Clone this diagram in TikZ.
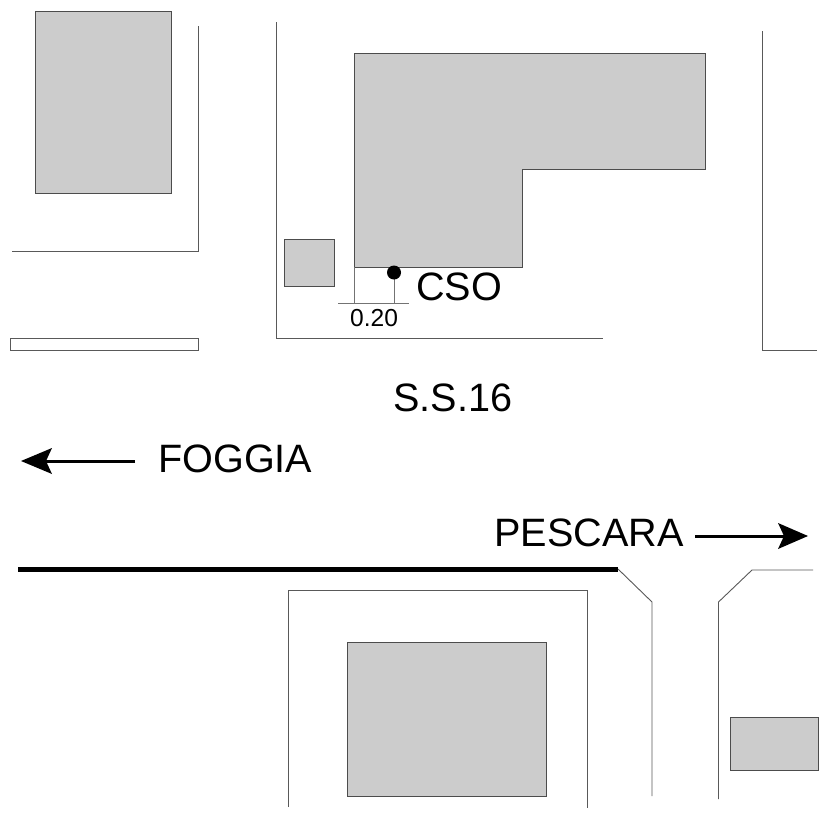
\documentclass[tikz,border=0pt]{standalone}
\usepackage{fontspec}
\setmainfont{Liberation Sans}
\tikzset{
  bld/.style={draw=black!70,fill=black!20,line width=1pt},
  road/.style={draw=black!65,line width=0.9pt},
  dimline/.style={draw=black!55,line width=0.9pt},
  biglabel/.style={inner sep=0pt,font=\fontsize{39.6}{39.6}\selectfont,text=black},
  smalllabel/.style={inner sep=0pt,font=\fontsize{24.6}{24.6}\selectfont,text=black},
  arrowline/.style={draw=black,line width=3pt},
  tipfill/.style={fill=black,draw=none}
}
\begin{document}
\begin{tikzpicture}[x=1pt,y=-1pt]
\useasboundingbox (0,0) rectangle (827,827);
\fill[white] (0,0) rectangle (827,827);
% buildings
\path[bld] (35.5,11) rectangle (171.5,193);
\path[bld] (354,53) -- (705,53) -- (705,169) -- (522,169) -- (522,267) -- (354,267) -- cycle;
\path[bld] (284.5,239.5) rectangle (334,286);
\path[bld] (347.5,642.5) rectangle (546,796);
\path[bld] (730.5,717) rectangle (818,770);
% roads
\draw[road] (198,26) -- (198,251) -- (12,251);
\draw[road] (10,338) rectangle (198,350);
\draw[road] (276,22) -- (276,338) -- (603,338);
\draw[road] (762,31) -- (762,350) -- (817,350);
\draw[road] (288,807) -- (288,590) -- (587,590) -- (587,808);
\draw[road] (618,569) -- (652,602) -- (652,796);
\draw[road] (718.5,799) -- (718.5,602) -- (752,570) -- (813,570);
\draw[draw=black,line width=4.5pt] (18,569.5) -- (618,569.5);
% dimension
\draw[dimline] (338,303) -- (409,303);
\draw[dimline] (354,267) -- (354,303);
\draw[dimline] (394,272) -- (394,303);
\fill[black] (394,272.5) circle (7);
% arrows
\draw[arrowline] (135,461) -- (40,461);
\path[tipfill] (21,461) -- (52,448) -- (46,461) -- (52,474) -- cycle;
\draw[arrowline] (695,536) -- (790,536);
\path[tipfill] (808,536) -- (778,523) -- (784,536) -- (778,549) -- cycle;
% text
\node[biglabel,anchor=base west] (cso) at (416,300) {CSO};
\node[smalllabel,anchor=base west] (dim) at (350,326) {0.20};
\node[biglabel,anchor=base west] (ss) at (393,411) {S.S.16};
\node[biglabel,anchor=base west] (fog) at (158,472) {FOGGIA};
\node[biglabel,anchor=base west] (pes) at (494,546) {PESCARA};
\end{tikzpicture}
\end{document}
